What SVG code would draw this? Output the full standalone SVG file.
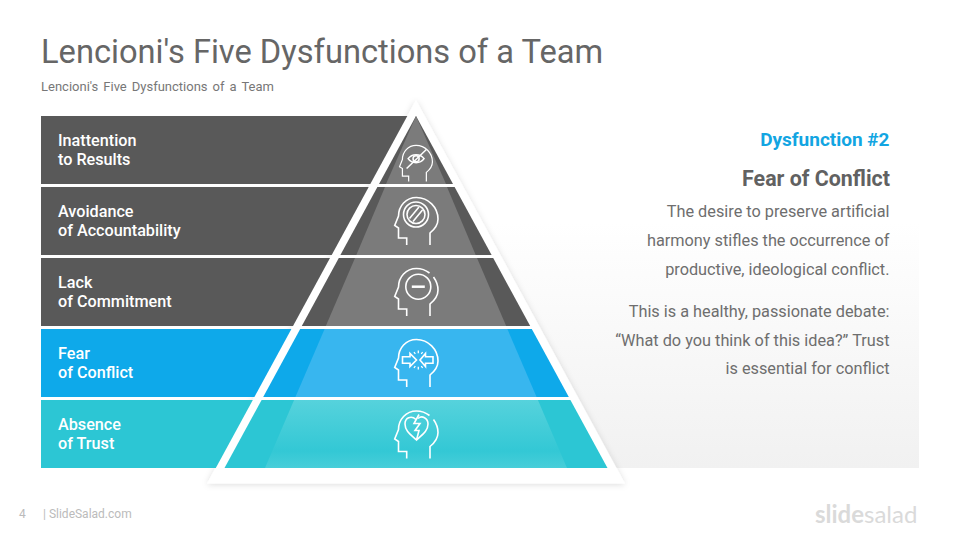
<svg xmlns="http://www.w3.org/2000/svg" width="960" height="540" viewBox="0 0 960 540">
<style>
text{font-family:Roboto,"Liberation Sans",sans-serif}
.lab{font-size:16.200px;font-weight:500;fill:#fff}
.body{font-size:16.300px;fill:#6e6e6e;text-anchor:end}
.ic{fill:none;stroke:#fff;stroke-width:1.600;stroke-linejoin:miter}
</style>
<defs>
<linearGradient id="bg" x1="0" y1="0" x2="0" y2="1"><stop offset="0.3" stop-color="#fff"/><stop offset="1" stop-color="#f1f1f1"/></linearGradient>
<linearGradient id="tealG" x1="0" y1="0" x2="0" y2="1"><stop offset="0" stop-color="#56d2dc"/><stop offset="0.75" stop-color="#33c8d5"/><stop offset="1" stop-color="#48ced9"/></linearGradient>
<filter id="sh" x="-10%" y="-10%" width="120%" height="120%"><feDropShadow dx="0" dy="1" stdDeviation="3" flood-color="#000" flood-opacity="0.14"/></filter>
<path id="head" d="M36,48 V36 C41,32 44,27 44,22 A21.700,21.700 0 0 0 22.500,0.500 C12,0.500 4.500,9 4.500,19 L0.700,28.500 L4.500,31 V41 H12.700 V48"/>
<path id="headB" d="M36,48 V36 C41,32 44,27 44,22 C44,17 42,12.500 39.500,9 M35.500,5 A21.700,21.700 0 0 0 22.500,0.500 C12,0.500 4.500,9 4.500,19 L0.700,28.500 L4.500,31 V41 H12.700 V48"/>
</defs>
<rect width="960" height="540" fill="#fff"/>
<rect x="416" y="116" width="503" height="352" fill="url(#bg)"/>
<g id="title">
<text x="41" y="63" fill="#666" style="font-size:32.650px">Lencioni's Five Dysfunctions of a Team</text>
<text x="41" y="91" font-size="13" fill="#777" word-spacing="1.800">Lencioni's Five Dysfunctions of a Team</text>
</g>
<path id="pyramid-frame" d="M416,100 L625,483.500 H207 Z" fill="#fff" filter="url(#sh)"/>
<g id="level-5">
<path d="M41,116 H407.300 L370.300,184 H41 Z" fill="#595959"/>
<path d="M416,116 L453,184 H379 Z" fill="#595959"/>
<path d="M416,116 L446,184 H386 Z" fill="#7b7b7b"/>
<text class="lab" x="58" y="146">Inattention</text><text class="lab" x="58" y="165">to Results</text>
<g class="ic" transform="translate(399,145) scale(.76)"><use href="#head"/><g stroke-width="2"><path d="M12,18 C17,11 28,11 33,18 C28,25 17,25 12,18 Z"/><circle cx="22.500" cy="18" r="4"/><path d="M10,31 L36,6"/></g></g>
</g>
<g id="level-4">
<path d="M41,187 H368.700 L331.700,255 H41 Z" fill="#595959"/>
<path d="M377.400,187 H454.600 L491.600,255 H340.400 Z" fill="#595959"/>
<path d="M385,187 H447 L475.700,255 H356.300 Z" fill="#7b7b7b"/>
<text class="lab" x="58" y="217">Avoidance</text><text class="lab" x="58" y="236">of Accountability</text>
<g class="ic" transform="translate(394,197)"><use href="#head"/><circle cx="22" cy="17.500" r="12.500"/><circle cx="22" cy="17.500" r="9"/><path d="M15.500,21.500 L25,10 M19,24.500 L28.500,13"/></g>
</g>
<g id="level-3">
<path d="M41,258 H330 L293,326 H41 Z" fill="#595959"/>
<path d="M338.800,258 H493.200 L530.200,326 H301.800 Z" fill="#595959"/>
<path d="M355,258 H477 L506.200,326 H325.800 Z" fill="#7b7b7b"/>
<text class="lab" x="58" y="288">Lack</text><text class="lab" x="58" y="307">of Commitment</text>
<g class="ic" transform="translate(394,268)"><use href="#headB"/><circle cx="24.300" cy="18.700" r="12.500"/><path d="M17.800,18.700 H30.800" stroke-width="2.500"/></g>
</g>
<g id="level-2">
<path d="M41,329 H291.400 L254.400,397 H41 Z" fill="#0ea9ea"/>
<path d="M300.200,329 H531.800 L568.800,397 H263.200 Z" fill="#0ea9ea"/>
<path d="M324.600,329 H507.400 L536.600,397 H295.400 Z" fill="#38b6ef"/>
<text class="lab" x="58" y="359">Fear</text><text class="lab" x="58" y="378">of Conflict</text>
<g class="ic" transform="translate(394,339)"><use href="#head"/><path d="M8.500,17.700 H16 V14.500 L22.500,21 L16,27.500 V24.300 H8.500 Z"/><path d="M39,17.700 H31.500 V14.500 L26,21 L31.500,27.500 V24.300 H39 Z"/><path d="M20,13 L21.300,15 M24.300,11.500 V14.200 M28.600,13 L27.300,15 M20,29 L21.300,27 M24.300,30.500 V27.800 M28.600,29 L27.300,27" stroke-width="1.300"/></g>
</g>
<g id="level-1">
<path d="M41,400 H252.800 L215.800,468 H41 Z" fill="#2cc6d4"/>
<path d="M261.600,400 H570.400 L607.500,468 H224.500 Z" fill="#2cc6d4"/>
<path d="M294.100,400 H537.900 L567,468 H265 Z" fill="url(#tealG)"/>
<text class="lab" x="58" y="430">Absence</text><text class="lab" x="58" y="449">of Trust</text>
<g class="ic" transform="translate(394,410.500)"><use href="#headB"/><path d="M22,9 C17,4.500 11,7.500 11,13.500 C11,21 18,25 22.500,29.500 C27,25 34,21 34,13.500 C34,7.500 28,4.500 24,8"/><path d="M25,4 L20,13 H26 L21,20 H25 L22.500,29.500"/></g>
</g>
<g id="text-panel">
<text x="889.500" y="146" text-anchor="end" font-size="19" font-weight="700" fill="#12a5e2">Dysfunction #2</text>
<text x="890" y="186" text-anchor="end" font-size="21.400" font-weight="700" fill="#616161">Fear of Conflict</text>
<text class="body" x="889.500" y="217">The desire to preserve artificial</text>
<text class="body" x="889.500" y="246">harmony stifles the occurrence of</text>
<text class="body" x="889.500" y="275">productive, ideological conflict.</text>
<text class="body" x="889.500" y="317">This is a healthy, passionate debate:</text>
<text class="body" x="889.500" y="346">“What do you think of this idea?” Trust</text>
<text class="body" x="889.500" y="374">is essential for conflict</text>
</g>
<g id="footer">
<text x="19" y="518" font-size="12" fill="#bbb">4</text>
<text x="43" y="518" font-size="12" fill="#bbb">| SlideSalad.com</text>
<text x="815" y="523" font-size="24" fill="#dadada" font-weight="700" style="font-family:Lato,Roboto,sans-serif">slide<tspan font-weight="400">salad</tspan></text>
</g>
</svg>
